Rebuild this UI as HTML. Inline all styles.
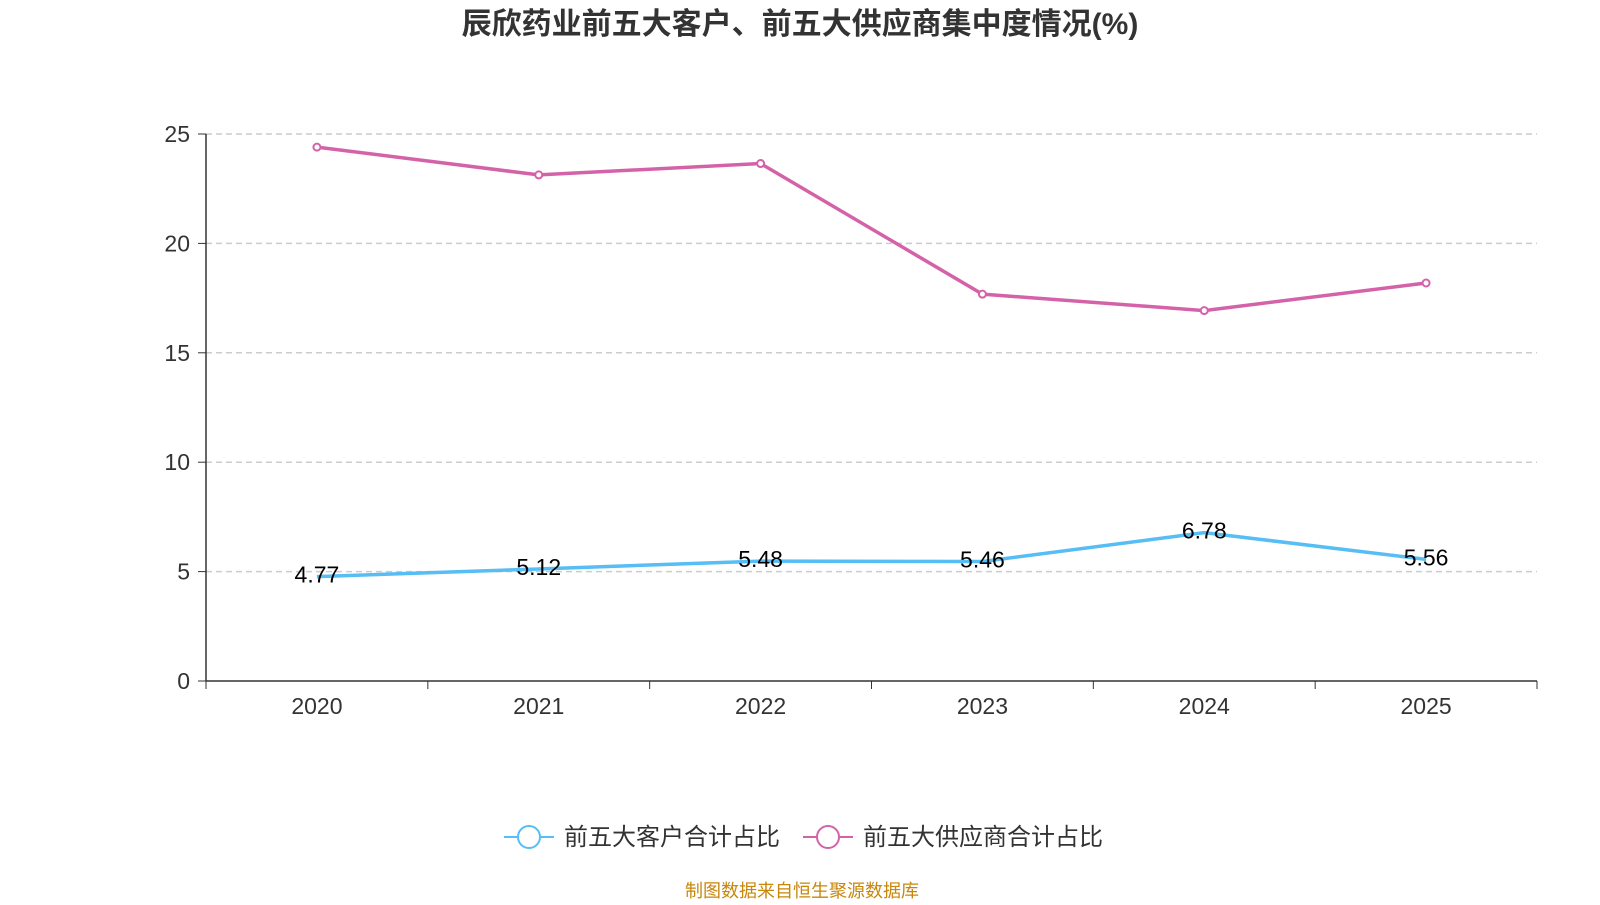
<!DOCTYPE html>
<html><head><meta charset="utf-8">
<style>
body{margin:0;background:#fff;width:1600px;height:900px;overflow:hidden;font-family:"Liberation Sans","Noto Sans CJK SC",sans-serif;}
svg text{font-family:"Liberation Sans","Noto Sans CJK SC",sans-serif;}
</style></head>
<body>
<svg id="chart" width="1600" height="900" xmlns="http://www.w3.org/2000/svg">
<text x="800" y="34" text-anchor="middle" font-size="30" font-weight="bold" fill="#333">辰欣药业前五大客户、前五大供应商集中度情况(%)</text>
<g id="grid"></g><g id="axes"></g><g id="series"></g>
<g>
<g>
<line x1="504" y1="837" x2="554" y2="837" stroke="#56bdf5" stroke-width="2"/>
<circle cx="529" cy="837" r="11" fill="#fff" stroke="#56bdf5" stroke-width="2"/>
<text x="564" y="845" font-size="24" fill="#333">前五大客户合计占比</text></g>
<g>
<line x1="803" y1="837" x2="853" y2="837" stroke="#d462a8" stroke-width="2"/>
<circle cx="828" cy="837" r="11" fill="#fff" stroke="#d462a8" stroke-width="2"/>
<text x="863" y="845" font-size="24" fill="#333">前五大供应商合计占比</text></g>
</g>
<text x="802" y="897" text-anchor="middle" font-size="18" fill="#c8860a">制图数据来自恒生聚源数据库</text>
</svg>
<script>
const categories=["2020","2021","2022","2023","2024","2025"];
const customers=[4.77,5.12,5.48,5.46,6.78,5.56];
const suppliers=[24.4,23.13,23.65,17.68,16.93,18.19];
const yTicks=[0,5,10,15,20,25];
const NS="http://www.w3.org/2000/svg";
const L=206,R=1537,T=134,B=681,yMax=25;
const bw=(R-L)/categories.length;
const x=i=>L+bw*(i+0.5);
const y=v=>B-(v/yMax)*(B-T);
function mk(p,tag,a){const e=document.createElementNS(NS,tag);for(const k in a)e.setAttribute(k,a[k]);p.appendChild(e);return e;}
const grid=document.getElementById('grid'),axes=document.getElementById('axes'),ser=document.getElementById('series');
yTicks.forEach(t=>{
 if(t>0){const g=mk(grid,'line',{x1:L,x2:R,y1:y(t),y2:y(t),stroke:'#ccc','stroke-width':1.5,'stroke-dasharray':'6,4'});
 
 }
 const tk=mk(axes,'line',{x1:L-8,x2:L,y1:y(t),y2:y(t),stroke:'#333'});
 
 
 const lb=mk(axes,'text',{x:L-16,y:y(t)+8,'text-anchor':'end','font-size':23,fill:'#333'});lb.textContent=t;
 
 
});
const ya=mk(axes,'line',{x1:L,x2:L,y1:T,y2:B,stroke:'#333','stroke-width':1.5});


const xa=mk(axes,'line',{x1:L,x2:R,y1:B,y2:B,stroke:'#333','stroke-width':1.5});


for(let i=0;i<=categories.length;i++){const t=mk(axes,'line',{x1:L+bw*i,x2:L+bw*i,y1:B,y2:B+8,stroke:'#333'});
 
 }
categories.forEach((c,i)=>{const t=mk(axes,'text',{x:x(i),y:B+33,'text-anchor':'middle','font-size':23,fill:'#333'});t.textContent=c;
 
 });
function line(data,color,name,labels){
 const p=mk(ser,'polyline',{points:data.map((v,i)=>x(i)+','+y(v)).join(' '),fill:'none',stroke:color,'stroke-width':3.5});
 
 
 data.forEach((v,i)=>{
  if(!labels){const c=mk(ser,'circle',{cx:x(i),cy:y(v),r:3.5,fill:'#fff',stroke:color,'stroke-width':2});
  
  }
  else{const t=mk(ser,'text',{x:x(i),y:y(v)+6,'text-anchor':'middle','font-size':23,fill:'#000'});t.textContent=v.toFixed(2);
  
  }
 });
}
line(suppliers,'#d462a8','suppliers',false);
line(customers,'#56bdf5','customers',true);
</script>
</body></html>
